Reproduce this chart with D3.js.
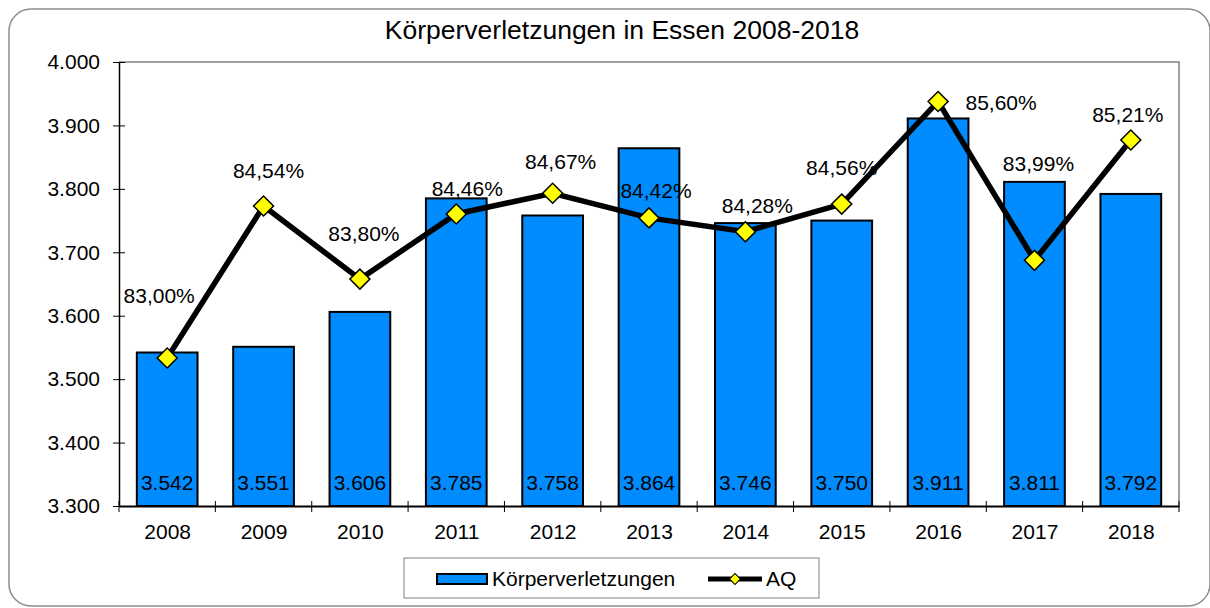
<!DOCTYPE html>
<html>
<head>
<meta charset="utf-8">
<script src="https://cdn.jsdelivr.net/npm/d3@7"></script>
<style>
html,body{margin:0;padding:0;background:#fff;}
svg{display:block;font-family:"Liberation Sans",Arial,sans-serif;}
</style>
</head>
<body>
<svg id="chart" width="1210" height="608"></svg>
<script>
const years = ["2008","2009","2010","2011","2012","2013","2014","2015","2016","2017","2018"];
const counts = [3542,3551,3606,3785,3758,3864,3746,3750,3911,3811,3792];
const aq = [83.00,84.54,83.80,84.46,84.67,84.42,84.28,84.56,85.60,83.99,85.21];
const yTicks = [3300,3400,3500,3600,3700,3800,3900,4000];

// label placement offsets (layout, not data)
const aqLabelOffsets = [[-8,-62],[5,-35],[4,-45],[11,-25],[8,-32],[7,-27],[12,-26],[0,-36],[63,1],[4,-97],[-3,-25]];

const svg = d3.select("#chart");
const pLeft = 119, pRight = 1179, pTop = 62, pBottom = 506;
const FS = 21;

const deFmt = d3.formatLocale({decimal:",",thousands:".",grouping:[3],currency:["","€"]});
const fmtInt = v => deFmt.format(",")(v);
const fmtPct = v => deFmt.format(".2f")(v) + "%";

// outer frame
svg.append("rect").attr("x",9).attr("y",9).attr("width",1201).attr("height",597)
  .attr("rx",22).attr("ry",22).attr("fill","#fff").attr("stroke","#8c8c8c").attr("stroke-width",1.5);

// title
svg.append("text").attr("x",622).attr("y",39).attr("text-anchor","middle")
  .attr("font-size",26.5).attr("fill","#000").text("Körperverletzungen in Essen 2008-2018");

const x = d3.scaleBand().domain(years).range([pLeft,pRight]).paddingInner(0.37).paddingOuter(0.185);
const xCenter = d3.scalePoint().domain(years).range([pLeft,pRight]).padding(0.5);
const y = d3.scaleLinear().domain([3300,4000]).range([pBottom,pTop]);
const y2 = d3.scaleLinear().domain([81.5,86]).range([pBottom,pTop]);

// plot frame top/right
svg.append("path").attr("d",`M${pLeft},${pTop}H${pRight}V${pBottom}`)
  .attr("fill","none").attr("stroke","#808080").attr("stroke-width",1.5);

// bars
svg.append("g").selectAll("rect").data(years).join("rect")
  .attr("x",d=>x(d)).attr("width",x.bandwidth())
  .attr("y",(d,i)=>y(counts[i])).attr("height",(d,i)=>y(3300)-y(counts[i]))
  .attr("fill","#008CFF").attr("stroke","#000").attr("stroke-width",2);

// bar value labels
svg.append("g").selectAll("text").data(years).join("text")
  .attr("x",d=>xCenter(d)).attr("y",483).attr("dy","0.35em")
  .attr("text-anchor","middle").attr("font-size",FS).attr("fill","#000")
  .text((d,i)=>fmtInt(counts[i]));

// y axis
const yAxis = d3.axisLeft(y).tickValues(yTicks).tickFormat(fmtInt).tickSizeInner(6).tickSizeOuter(0).tickPadding(13);
const gy = svg.append("g").attr("transform",`translate(${pLeft},0)`).call(yAxis);
gy.select(".domain").attr("stroke","#000").attr("stroke-width",1.5);
gy.selectAll(".tick line").attr("x1",-6).attr("x2",6).attr("stroke","#000");
gy.selectAll(".tick text").attr("font-size",FS).attr("fill","#000").attr("font-family","Liberation Sans, Arial, sans-serif");

// x axis
const xAxis = d3.axisBottom(xCenter).tickSize(0).tickPadding(18);
const gx = svg.append("g").attr("transform",`translate(0,${pBottom})`).call(xAxis);
gx.select(".domain").attr("stroke","#000").attr("stroke-width",2);
gx.selectAll(".tick text").attr("font-size",FS).attr("fill","#000").attr("font-family","Liberation Sans, Arial, sans-serif");
// category boundary ticks
const step = xCenter.step();
svg.append("g").selectAll("line").data(d3.range(years.length+1)).join("line")
  .attr("x1",i=>pLeft+i*step).attr("x2",i=>pLeft+i*step)
  .attr("y1",pBottom-5).attr("y2",pBottom+6).attr("stroke","#000").attr("stroke-width",1);

// AQ line
const line = d3.line().x((d,i)=>xCenter(years[i])).y(d=>y2(d));
svg.append("path").datum(aq).attr("d",line).attr("fill","none")
  .attr("stroke","#000").attr("stroke-width",5.5).attr("stroke-linejoin","miter");

const diamond = d3.symbol().type(d3.symbolSquare).size(200);
svg.append("g").selectAll("path").data(aq).join("path")
  .attr("d",diamond)
  .attr("transform",(d,i)=>`translate(${xCenter(years[i])},${y2(d)}) rotate(45)`)
  .attr("fill","#FFFF00").attr("stroke","#000").attr("stroke-width",1.5);

// AQ labels
svg.append("g").selectAll("text").data(aq).join("text")
  .attr("x",(d,i)=>xCenter(years[i])+aqLabelOffsets[i][0])
  .attr("y",(d,i)=>y2(d)+aqLabelOffsets[i][1])
  .attr("dy","0.35em").attr("text-anchor","middle").attr("font-size",FS).attr("fill","#000")
  .text(d=>fmtPct(d));

// legend
const lg = svg.append("g");
lg.append("rect").attr("x",404).attr("y",558).attr("width",415).attr("height",40)
  .attr("fill","#fff").attr("stroke","#808080").attr("stroke-width",1);
lg.append("rect").attr("x",437).attr("y",574).attr("width",50).attr("height",10)
  .attr("fill","#008CFF").attr("stroke","#000").attr("stroke-width",2);
lg.append("text").attr("x",492).attr("y",579).attr("dy","0.35em").attr("font-size",FS).text("Körperverletzungen");
lg.append("line").attr("x1",708).attr("x2",762).attr("y1",579).attr("y2",579).attr("stroke","#000").attr("stroke-width",5);
lg.append("path").attr("d",d3.symbol().type(d3.symbolSquare).size(60))
  .attr("transform","translate(735,579) rotate(45)").attr("fill","#FFFF00").attr("stroke","#000").attr("stroke-width",1);
lg.append("text").attr("x",766).attr("y",579).attr("dy","0.35em").attr("font-size",FS).text("AQ");
</script>
</body>
</html>
